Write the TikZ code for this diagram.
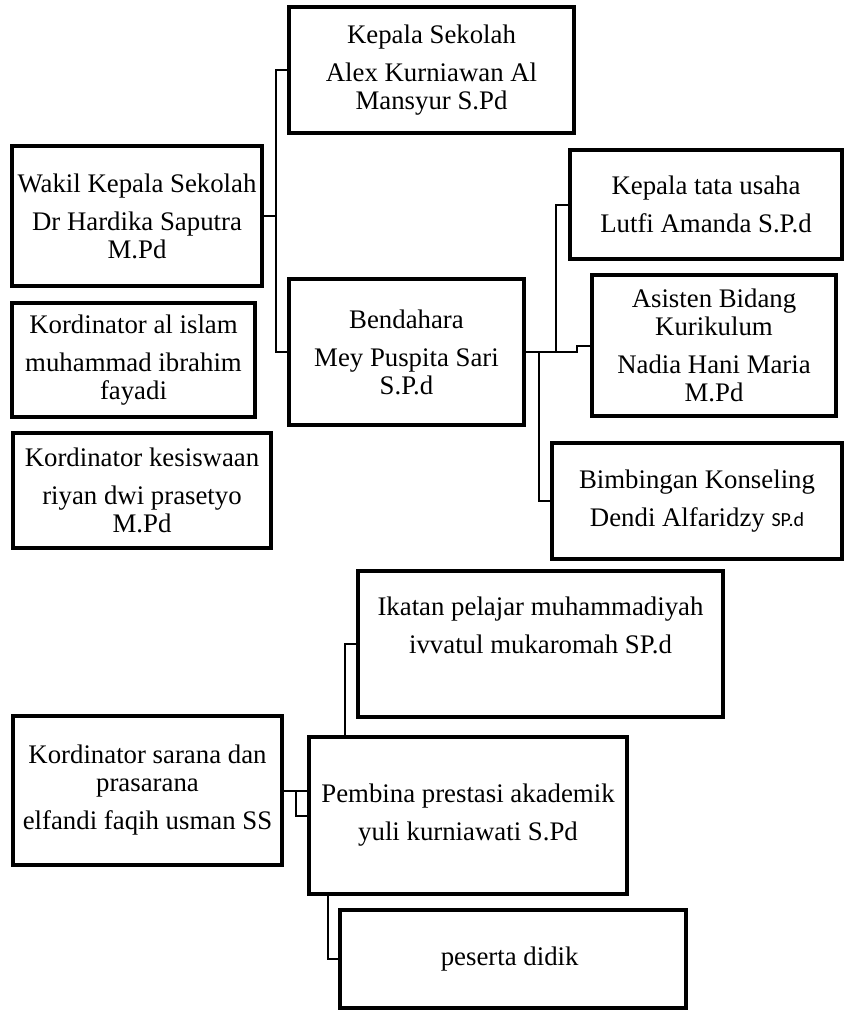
\documentclass[tikz,border=0pt]{standalone}
\usepackage{fontspec}
\setmainfont{Liberation Serif}
\newfontfamily\smallsans{Carlito}
\usepackage{tikz}
\usetikzlibrary{positioning,calc}
\tikzset{every node/.append style={align=center}}

\begin{document}
\begin{tikzpicture}[
    x=1pt, y=-1pt,
    unit/.style={draw, line width=3.4pt, inner sep=0pt, font=\fontsize{26.8}{28}\selectfont},
    link/.style={line width=2pt}
]
    \useasboundingbox (0,0) rectangle (844,1011);

    % Kepala Sekolah
    \node[unit, minimum width=285pt, minimum height=126pt] (kepala) at (431.5,70) {
        Kepala Sekolah \\[10pt]
        Alex Kurniawan Al \\
        Mansyur S.Pd
    };

    % Wakil Kepala Sekolah
    \node[unit, minimum width=250pt, minimum height=140pt] (wakil) at (137,216) {
        Wakil Kepala Sekolah \\[10pt]
        Dr Hardika Saputra \\
        M.Pd
    };

    % Kordinator al islam
    \node[unit, minimum width=243pt, minimum height=114pt] (alislam) at (133.5,360) {
        Kordinator al islam \\[10pt]
        muhammad ibrahim \\
        fayadi
    };

    % Kordinator kesiswaan
    \node[unit, minimum width=258pt, minimum height=115pt] (kesiswaan) at (142,490.5) {
        Kordinator kesiswaan \\[10pt]
        riyan dwi prasetyo \\
        M.Pd
    };

    % Bendahara
    \node[unit, minimum width=235pt, minimum height=146pt] (bendahara) at (406.5,352) {
        Bendahara \\[10pt]
        Mey Puspita Sari \\
        S.P.d
    };

    % Kepala tata usaha
    \node[unit, minimum width=272pt, minimum height=109pt] (tatausaha) at (706,204.5) {
        Kepala tata usaha \\[10pt]
        Lutfi Amanda S.P.d
    };

    % Asisten Bidang Kurikulum
    \node[unit, minimum width=244pt, minimum height=141pt] (asisten) at (714,345.5) {
        Asisten Bidang \\
        Kurikulum \\[10pt]
        Nadia Hani Maria \\
        M.Pd
    };

    % Bimbingan Konseling
    \node[unit, minimum width=290pt, minimum height=116pt] (bimbingan) at (697,501) {
        Bimbingan Konseling \\[10pt]
        Dendi Alfaridzy {\smallsans\fontsize{20}{22}\selectfont SP.d}
    };

    % Ikatan pelajar muhammadiyah
    \node[unit, minimum width=365pt, minimum height=146pt] (ikatan) at (540.5,644) {
        Ikatan pelajar muhammadiyah \\[10pt]
        ivvatul mukaromah SP.d \\[10pt]
        ~
    };

    % Kordinator sarana dan prasarana
    \node[unit, minimum width=269pt, minimum height=149pt] (sarana) at (147.5,790.5) {
        Kordinator sarana dan \\
        prasarana \\[10pt]
        elfandi faqih usman SS
    };

    % Pembina prestasi akademik
    \node[unit, minimum width=318pt, minimum height=157pt] (pembina) at (468,815.5) {
        Pembina prestasi akademik \\[10pt]
        yuli kurniawati S.Pd
    };

    % peserta didik
    \node[unit, minimum width=346pt, minimum height=98pt] (peserta) at (513,959) {
        peserta didik
    };

    % bend points of the connectors
    \coordinate (spineL) at (276,0);
    \coordinate (spineB) at (539,0);
    \coordinate (spineR) at (556,0);
    \coordinate (jogR) at (577,0);
    \coordinate (spineI) at (345,0);
    \coordinate (jogS) at (296,0);
    \coordinate (spineP) at (328,0);

    % Kepala Sekolah to Bendahara, with Wakil
    \draw[link] (kepala.west) -| (spineL |- bendahara.west) -- (bendahara.west);
    \draw[link] (wakil.east) -- (wakil.east -| spineL);

    % Bendahara to the right branch
    \draw[link] (bendahara.east) -- (bendahara.east -| jogR) |- (asisten.west);
    \draw[link] (tatausaha.west) -| (spineR |- bendahara.east);
    \draw[link] (bimbingan.west) -| (spineB |- bendahara.east);

    % lower group
    \draw[link] (ikatan.west) -| (spineI |- pembina.north);
    \draw[link] (sarana.east) -- (sarana.east -| pembina.west);
    \draw[link] (sarana.east -| jogS) |- (pembina.west);
    \draw[link] (spineP |- pembina.south) |- (peserta.west);

\end{tikzpicture}
\end{document}
